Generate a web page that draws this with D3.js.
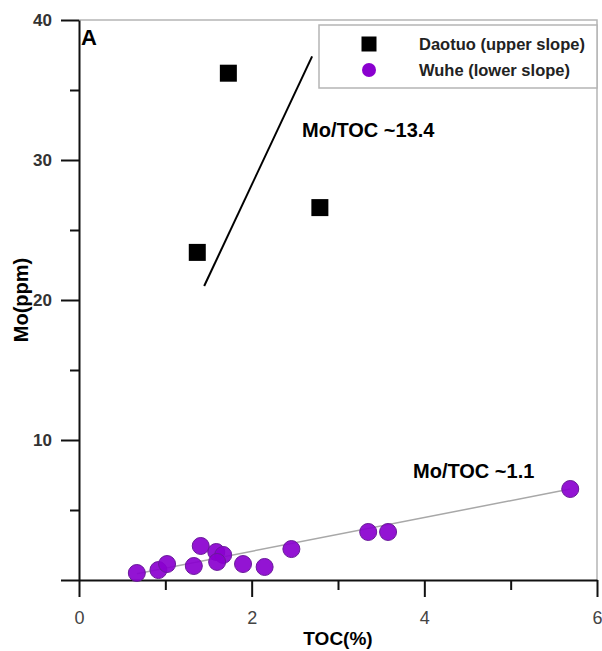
<!DOCTYPE html>
<html>
<head>
<meta charset="utf-8">
<script src="https://cdn.jsdelivr.net/npm/d3@7"></script>
<style>
    body { margin: 0; background: #fff; }
    text { font-family: "Liberation Sans", Arial, sans-serif; }
</style>
</head>
<body>
<div id="chart"></div>
<script>
// Daotuo (upper slope)
let daotuoToc = [1.73, 1.37, 2.79];
let daotuoMo = [36.2, 23.4, 26.6];

// Wuhe (lower slope)
let wuheToc = [0.67, 0.92, 1.02, 1.33, 1.41, 1.59, 1.67, 1.60, 1.90, 2.15, 2.46, 3.35, 3.58, 5.69];
let wuheMo = [0.5, 0.71, 1.14, 1.0, 2.43, 2.0, 1.79, 1.29, 1.14, 0.93, 2.21, 3.43, 3.43, 6.5];

// trend lines (end points)
let daotuoLine = [[1.45, 21.0], [2.70, 37.4]];
let wuheLine = [[0.67, 0.45], [5.69, 6.5]];

let xTicks = [0, 2, 4, 6];
let xMinor = [1, 3, 5];
let yTicks = [0, 10, 20, 30, 40];
let yMinor = [5, 15, 25, 35];

let margin = {top: 20, right: 5, bottom: 71, left: 79};
let width = 602 - margin.left - margin.right;
let height = 651 - margin.top - margin.bottom;

let svg = d3.select("#chart").append("svg")
    .attr("width", 602)
    .attr("height", 651)
    .append("g")
    .attr("transform", `translate(${margin.left},${margin.top})`);

let x = d3.scaleLinear().domain([0, 6]).range([0, width]);
let y = d3.scaleLinear().domain([0, 40]).range([height, 0]);

// frame top / right
svg.append("path")
    .attr("d", `M0,0H${width}V${height}`)
    .attr("fill", "none")
    .attr("stroke", "#b5b5b5")
    .attr("stroke-width", 1.5);

// x axis
let xAxis = svg.append("g")
    .attr("transform", `translate(0,${height})`)
    .call(d3.axisBottom(x).tickValues(xTicks).tickSize(17).tickSizeOuter(0).tickFormat(d3.format("d")));
svg.append("g")
    .attr("transform", `translate(0,${height})`)
    .call(d3.axisBottom(x).tickValues(xMinor).tickSize(10).tickSizeOuter(0).tickFormat(""))
    .select(".domain").remove();
xAxis.selectAll("text")
    .attr("dy", "0.35em")
    .attr("y", 38)
    .style("font-size", "18px")
    .attr("fill", "#444");

// y axis
let yAxis = svg.append("g")
    .call(d3.axisLeft(y).tickValues(yTicks).tickSize(18).tickSizeOuter(0)
        .tickFormat(d => d === 0 ? "" : d));
svg.append("g")
    .call(d3.axisLeft(y).tickValues(yMinor).tickSize(9).tickSizeOuter(0).tickFormat(""))
    .select(".domain").remove();
yAxis.selectAll("text")
    .attr("x", -27)
    .style("font-size", "17px")
    .style("font-weight", "bold")
    .attr("fill", "#333");

svg.selectAll(".domain, .tick line")
    .attr("stroke", "#111")
    .attr("stroke-width", 2);

// axis titles
svg.append("text")
    .text("TOC(%)")
    .attr("x", width / 2)
    .attr("y", height + 65)
    .attr("text-anchor", "middle")
    .style("font-size", "19px")
    .style("font-weight", "bold");

svg.append("text")
    .text("Mo(ppm)")
    .attr("transform", `translate(${28 - margin.left},${height / 2}) rotate(-90)`)
    .attr("text-anchor", "middle")
    .style("font-size", "20px")
    .style("font-weight", "bold");

// panel letter
svg.append("text")
    .text("A")
    .attr("x", 2)
    .attr("y", 25)
    .style("font-size", "22px")
    .style("font-weight", "bold");

// trend lines
let line = d3.line().x(d => x(d[0])).y(d => y(d[1]));
svg.append("path")
    .attr("d", line(wuheLine))
    .attr("stroke", "#a8a8a8")
    .attr("stroke-width", 1.5)
    .attr("fill", "none");
svg.append("path")
    .attr("d", line(daotuoLine))
    .attr("stroke", "#000")
    .attr("stroke-width", 2)
    .attr("fill", "none");

// Wuhe points
let purple = "#8a00cf";
svg.selectAll(".wuhe")
    .data(d3.range(wuheToc.length))
    .enter()
    .append("circle")
    .attr("class", "wuhe")
    .attr("cx", i => x(wuheToc[i]))
    .attr("cy", i => y(wuheMo[i]))
    .attr("r", 8.5)
    .attr("fill", purple)
    .attr("fill-opacity", 0.92)
    .attr("stroke", "#6a1a9a")
    .attr("stroke-width", 1);

// Daotuo points
let sq = 17;
svg.selectAll(".daotuo")
    .data(d3.range(daotuoToc.length))
    .enter()
    .append("rect")
    .attr("class", "daotuo")
    .attr("x", i => x(daotuoToc[i]) - sq / 2)
    .attr("y", i => y(daotuoMo[i]) - sq / 2)
    .attr("width", sq)
    .attr("height", sq)
    .attr("fill", "#000");

// annotations
svg.append("text")
    .text("Mo/TOC ~13.4")
    .attr("x", 223)
    .attr("y", 117)
    .style("font-size", "20px")
    .style("font-weight", "bold");
svg.append("text")
    .text("Mo/TOC ~1.1")
    .attr("x", 334)
    .attr("y", 458)
    .style("font-size", "20px")
    .style("font-weight", "bold");

// legend
let legend = svg.append("g").attr("transform", `translate(${319 - margin.left},${25 - margin.top})`);
legend.append("rect")
    .attr("width", 278)
    .attr("height", 63)
    .attr("fill", "#fff")
    .attr("stroke", "#b5b5b5")
    .attr("stroke-width", 1.5);
legend.append("rect")
    .attr("x", 50 - 7.5)
    .attr("y", 19 - 7.5)
    .attr("width", 15)
    .attr("height", 15)
    .attr("fill", "#000");
legend.append("circle")
    .attr("cx", 50)
    .attr("cy", 45)
    .attr("r", 7)
    .attr("fill", purple);
legend.append("text")
    .text("Daotuo (upper slope)")
    .attr("x", 100)
    .attr("y", 19)
    .attr("dy", "0.35em")
    .style("font-size", "16.5px")
    .style("font-weight", "bold")
    .attr("fill", "#222");
legend.append("text")
    .text("Wuhe (lower slope)")
    .attr("x", 100)
    .attr("y", 45)
    .attr("dy", "0.35em")
    .style("font-size", "16.5px")
    .style("font-weight", "bold")
    .attr("fill", "#222");
</script>
</body>
</html>
